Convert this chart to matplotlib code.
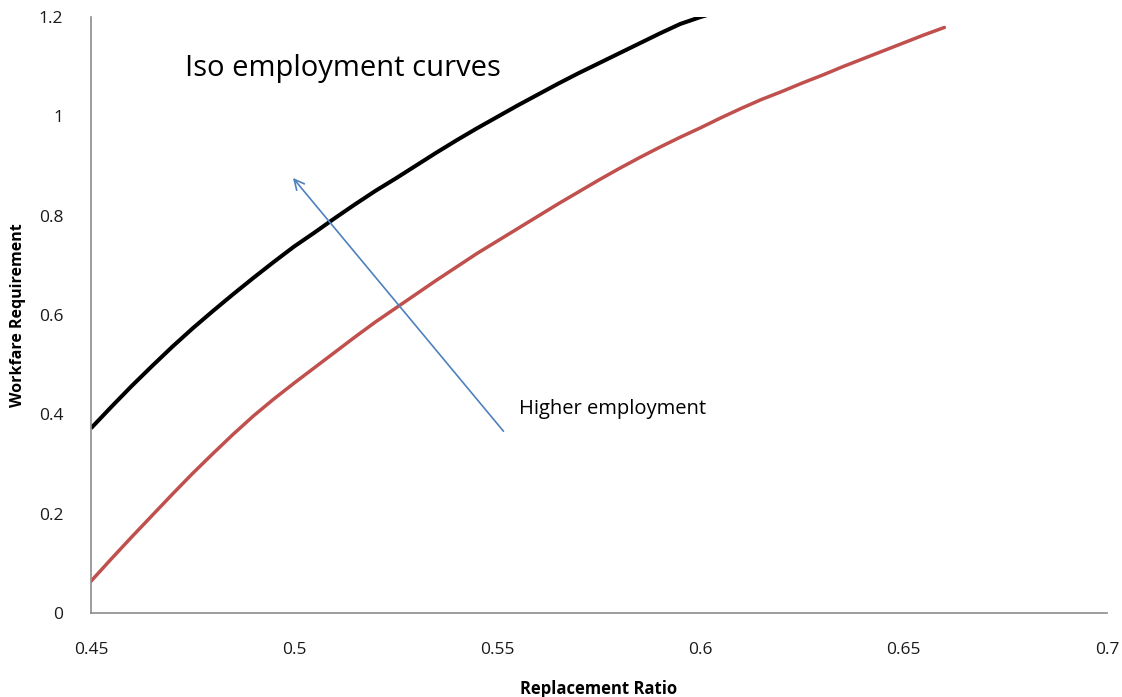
import numpy as np
import matplotlib.pyplot as plt

plt.rcParams['font.family'] = ['Open Sans', 'DejaVu Sans']

# replacement ratio grid and the two iso-employment curves
ratio = [0.450, 0.455, 0.460, 0.465, 0.470, 0.475, 0.480, 0.485, 0.490, 0.495,
         0.500, 0.505, 0.510, 0.515, 0.520, 0.525, 0.530, 0.535, 0.540, 0.545,
         0.550, 0.555, 0.560, 0.565, 0.570, 0.575, 0.580, 0.585, 0.590, 0.595,
         0.600, 0.605]
high_emp = [0.372, 0.415, 0.457, 0.497, 0.536, 0.573, 0.608, 0.642, 0.675, 0.707,
            0.738, 0.766, 0.795, 0.823, 0.850, 0.875, 0.901, 0.927, 0.952, 0.976,
            0.999, 1.022, 1.044, 1.066, 1.087, 1.107, 1.127, 1.147, 1.167, 1.186,
            1.200, 1.212]

ratio_low = [0.450, 0.455, 0.460, 0.465, 0.470, 0.475, 0.480, 0.485, 0.490, 0.495,
             0.500, 0.505, 0.510, 0.515, 0.520, 0.525, 0.530, 0.535, 0.540, 0.545,
             0.550, 0.555, 0.560, 0.565, 0.570, 0.575, 0.580, 0.585, 0.590, 0.595,
             0.600, 0.605, 0.610, 0.615, 0.620, 0.625, 0.630, 0.635, 0.640, 0.645,
             0.650, 0.655, 0.660]
low_emp = [0.064, 0.109, 0.153, 0.196, 0.239, 0.281, 0.321, 0.360, 0.397, 0.431,
           0.463, 0.494, 0.525, 0.556, 0.586, 0.614, 0.642, 0.670, 0.697, 0.724,
           0.749, 0.774, 0.799, 0.824, 0.848, 0.872, 0.895, 0.917, 0.938, 0.958,
           0.977, 0.997, 1.016, 1.034, 1.050, 1.067, 1.083, 1.100, 1.116, 1.132,
           1.148, 1.164, 1.179]

xticks = [0.45, 0.5, 0.55, 0.6, 0.65, 0.7]
xticklabels = ['0.45', '0.5', '0.55', '0.6', '0.65', '0.7']
yticks = [0, 0.2, 0.4, 0.6, 0.8, 1.0, 1.2]
yticklabels = ['0', '0.2', '0.4', '0.6', '0.8', '1', '1.2']

arrow_tail = (0.5515, 0.366)
arrow_head = (0.4997, 0.876)

fig = plt.figure(figsize=(11.22, 6.97), dpi=100)
ax = fig.add_axes([0.0811, 0.1205, 0.9055, 0.8551])

ax.plot(ratio, high_emp, color='black', lw=2.9, solid_capstyle='butt')
ax.plot(ratio_low, low_emp, color='#c0504d', lw=2.5, solid_capstyle='round')

ax.set_xlim(0.45, 0.7)
ax.set_ylim(0, 1.2)
ax.set_xticks(xticks)
ax.set_xticklabels(xticklabels)
ax.set_yticks(yticks)
ax.set_yticklabels(yticklabels)
ax.tick_params(length=0, labelsize=12.5, colors='#1a1a1a')
ax.tick_params(axis='x', pad=21)
ax.tick_params(axis='y', pad=20)

for s in ['top', 'right']:
    ax.spines[s].set_visible(False)
for s in ['left', 'bottom']:
    ax.spines[s].set_color('#8c8c8c')
    ax.spines[s].set_linewidth(1.2)

ax.set_xlabel('Replacement Ratio', fontsize=12, fontweight='bold', labelpad=16)
ax.set_ylabel('Workfare Requirement', fontsize=11.5, fontweight='bold', labelpad=9)

ax.annotate('', xy=arrow_head, xytext=arrow_tail,
            arrowprops=dict(arrowstyle='->', color='#4f81bd', lw=1.2,
                            mutation_scale=18, shrinkA=0, shrinkB=0))

ax.text(0.4731, 1.097, 'Iso employment curves', fontsize=21, va='center', ha='left')
ax.text(0.5553, 0.411, 'Higher employment', fontsize=14.5, va='center', ha='left')

fig.savefig('out.png', dpi=100)
